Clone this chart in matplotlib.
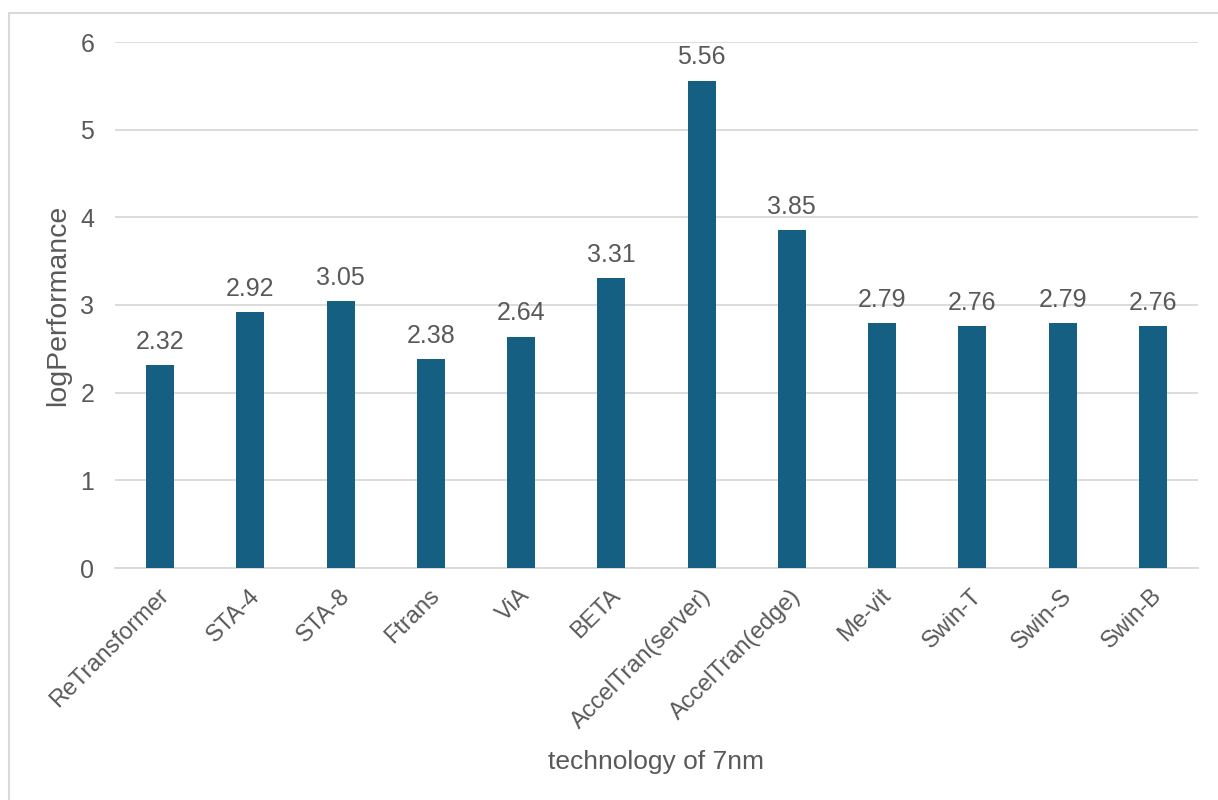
import matplotlib
matplotlib.use("Agg")
import matplotlib.pyplot as plt
import matplotlib.transforms as mtransforms
from matplotlib.patches import Rectangle

categories = ["ReTransformer", "STA-4", "STA-8", "Ftrans", "ViA", "BETA",
              "AccelTran(server)", "AccelTran(edge)", "Me-vit", "Swin-T", "Swin-S", "Swin-B"]
values = [2.32, 2.92, 3.05, 2.38, 2.64, 3.31, 5.56, 3.85, 2.79, 2.76, 2.79, 2.76]
yticks = [0, 1, 2, 3, 4, 5, 6]

plt.rcParams['font.family'] = ['Liberation Sans', 'DejaVu Sans']
text_color = "#595959"
grid_color = "#D9D9D9"
bar_color = "#156082"

fig = plt.figure(figsize=(12.18, 8.0), dpi=100)
ax = fig.add_axes([115/1218, 1 - 568/800, (1198-115)/1218, (568-42)/800])

x = list(range(len(categories)))
ax.bar(x, values, width=0.31, color=bar_color, zorder=3)
for xi, v in zip(x, values):
    ax.annotate(f"{v:.2f}", (xi, v), xytext=(0, 8), textcoords="offset points",
                ha="center", va="bottom", fontsize=18, color=text_color)

ax.set_xlim(-0.5, len(categories) - 0.5)
ax.set_ylim(0, 6)
ax.set_yticks(yticks)
ax.set_yticklabels([str(t) for t in yticks])
ax.yaxis.grid(True, color=grid_color, lw=1.3, zorder=0)
ax.set_axisbelow(True)
for s in ["top", "right", "left"]:
    ax.spines[s].set_visible(False)
ax.spines["bottom"].set_color(grid_color)
ax.spines["bottom"].set_linewidth(1.3)
ax.tick_params(axis="y", length=0, labelsize=18, colors=text_color, pad=15)
ax.tick_params(axis="x", length=0, labelsize=17, colors=text_color, pad=12)
ax.set_xticks(x)
ax.set_xticklabels(categories, rotation=45, ha="right", rotation_mode="anchor")
offset = mtransforms.ScaledTranslation(-2/100, 0, fig.dpi_scale_trans)
for lab in ax.get_xticklabels():
    lab.set_transform(lab.get_transform() + offset)

ax.set_ylabel("logPerformance", fontsize=20.5, color=text_color)
ax.yaxis.set_label_coords((58 - 115) / (1198 - 115), 0.5)
ax.set_xlabel("technology of 7nm", fontsize=19, color=text_color)
ax.xaxis.set_label_coords(0.5, -(762 - 568) / (568 - 42))
ax.xaxis.label.set_verticalalignment("center")
ax.yaxis.label.set_verticalalignment("center")

fig.patches.append(Rectangle((9/1218, -0.1), 1.2, 1 - 13/800 + 0.1,
                             transform=fig.transFigure, fill=False,
                             edgecolor=grid_color, lw=1.5))

fig.savefig("out.png", dpi=100)
